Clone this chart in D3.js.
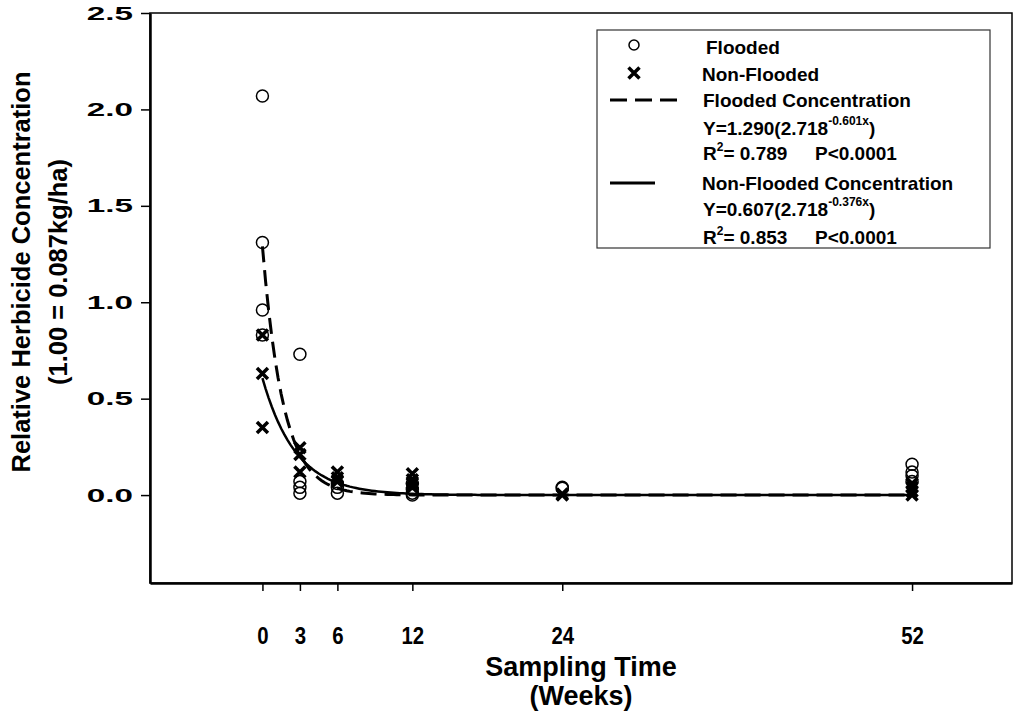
<!DOCTYPE html>
<html>
<head>
<meta charset="utf-8">
<script src="https://cdn.jsdelivr.net/npm/d3@7"></script>
<style>
  body { margin: 0; background: #fff; }
  text { font-family: "Liberation Sans", Arial, sans-serif; font-weight: bold; fill: #000; }
</style>
</head>
<body>
<div id="mainDiv"></div>
<script>
// x tick positions (weeks)
var xTicks = [0, 3, 6, 12, 24, 52];
var yTicks = [0.0, 0.5, 1.0, 1.5, 2.0, 2.5];

// flooded samples (open circles)
var floodedX = [0, 0, 0, 0, 3, 3, 3, 3, 6, 6, 6, 12, 12, 12, 12, 24, 24, 52, 52, 52, 52];
var floodedY = [2.07, 1.31, 0.96, 0.83, 0.73, 0.07, 0.04, 0.01, 0.06, 0.04, 0.01, 0.06, 0.03, 0.01, 0.0, 0.04, 0.035, 0.16, 0.12, 0.10, 0.07];

// non-flooded samples (crosses)
var nonFloodedX = [0, 0, 0, 3, 3, 3, 6, 6, 6, 12, 12, 12, 12, 24, 24, 52, 52, 52, 52];
var nonFloodedY = [0.83, 0.63, 0.35, 0.245, 0.21, 0.12, 0.12, 0.09, 0.07, 0.11, 0.08, 0.06, 0.04, 0.0, 0.005, 0.06, 0.04, 0.02, 0.0];

// fitted curves from the legend: Y = a * 2.718^(b x)
var fitFlooded = [1.290, -0.601];
var fitNonFlooded = [0.607, -0.376];

var legendLabels = ["Flooded", "Non-Flooded", "Flooded Concentration", "Non-Flooded Concentration"];

var mySvg = d3.select("#mainDiv").append("svg")
    .attr("width", 1013)
    .attr("height", 719);

var pLeft = 150, pRight = 1012, pTop = 13, pBottom = 583;

var x = d3.scaleLinear().domain([-9, 60]).range([pLeft, pRight]);
var y = d3.scaleLinear().domain([-0.456, 2.5]).range([pBottom, pTop]);

// frame
mySvg.append("rect")
    .attr("x", pLeft).attr("y", pTop)
    .attr("width", pRight - pLeft).attr("height", pBottom - pTop)
    .attr("fill", "none").attr("stroke", "#000").attr("stroke-width", 1.5);

// axes
var xAxis = mySvg.append("g")
    .attr("transform", "translate(0," + pBottom + ")")
    .call(d3.axisBottom(x).tickValues(xTicks).tickSize(8).tickSizeOuter(0).tickPadding(36));
xAxis.select(".domain").attr("stroke-width", 2.5);
xAxis.selectAll(".tick line").attr("stroke-width", 1.5);
xAxis.selectAll("text")
    .style("font-family", "'Liberation Sans', sans-serif")
    .style("font-weight", "bold")
    .style("font-size", "24px")
    .attr("transform", "scale(0.85,1)");

var yAxis = mySvg.append("g")
    .attr("transform", "translate(" + pLeft + ",0)")
    .call(d3.axisLeft(y).tickValues(yTicks).tickFormat(d3.format(".1f")).tickSize(9).tickSizeOuter(0));
yAxis.select(".domain").attr("stroke-width", 2.5);
yAxis.selectAll(".tick line").attr("stroke-width", 1.5);
yAxis.selectAll("text")
    .style("font-family", "'Liberation Sans', sans-serif")
    .style("font-weight", "bold")
    .style("font-size", "19px")
    .attr("x", -17 / 1.75)
    .attr("transform", "scale(1.75,1)");

// axis titles
mySvg.append("text")
    .attr("x", 581).attr("y", 676)
    .attr("text-anchor", "middle")
    .style("font-size", "27px")
    .text("Sampling Time");
mySvg.append("text")
    .attr("x", 581).attr("y", 705)
    .attr("text-anchor", "middle")
    .style("font-size", "27px")
    .text("(Weeks)");

mySvg.append("text")
    .attr("transform", "translate(30,272) rotate(-90)")
    .attr("text-anchor", "middle")
    .style("font-size", "25.5px")
    .text("Relative Herbicide Concentration");
mySvg.append("text")
    .attr("transform", "translate(67,272) rotate(-90)")
    .attr("text-anchor", "middle")
    .style("font-size", "25.5px")
    .text("(1.00 = 0.087kg/ha)");

// fitted curves
var curveX = d3.range(0, 52.01, 0.25);
var line = d3.line()
    .x(function(d) { return x(d[0]); })
    .y(function(d) { return y(d[1]); });

mySvg.append("path")
    .datum(curveX.map(function(t) { return [t, fitFlooded[0] * Math.pow(2.718, fitFlooded[1] * t)]; }))
    .attr("d", line)
    .attr("fill", "none").attr("stroke", "#000")
    .attr("stroke-width", 3).attr("stroke-dasharray", "16,8");

mySvg.append("path")
    .datum(curveX.map(function(t) { return [t, fitNonFlooded[0] * Math.pow(2.718, fitNonFlooded[1] * t)]; }))
    .attr("d", line)
    .attr("fill", "none").attr("stroke", "#000")
    .attr("stroke-width", 2.5);

// markers
function cross(g, cx, cy) {
    var s = 5.5;
    g.append("path")
        .attr("d", "M" + (cx - s) + "," + (cy - s) + "L" + (cx + s) + "," + (cy + s) +
                   "M" + (cx - s) + "," + (cy + s) + "L" + (cx + s) + "," + (cy - s))
        .attr("stroke", "#000").attr("stroke-width", 3.5).attr("fill", "none");
}

var pts = mySvg.append("g");
floodedX.forEach(function(d, i) {
    pts.append("circle")
        .attr("cx", x(d)).attr("cy", y(floodedY[i])).attr("r", 6)
        .attr("fill", "none").attr("stroke", "#000").attr("stroke-width", 1.5);
});
nonFloodedX.forEach(function(d, i) {
    cross(pts, x(d), y(nonFloodedY[i]));
});

// legend
var leg = mySvg.append("g");
leg.append("rect")
    .attr("x", 597).attr("y", 30).attr("width", 393).attr("height", 218)
    .attr("fill", "#fff").attr("stroke", "#333").attr("stroke-width", 1.2);

leg.append("circle").attr("cx", 634).attr("cy", 45).attr("r", 5)
    .attr("fill", "none").attr("stroke", "#000").attr("stroke-width", 1.5);
cross(leg, 634, 73);
leg.append("line").attr("x1", 610).attr("x2", 677).attr("y1", 100).attr("y2", 100)
    .attr("stroke", "#000").attr("stroke-width", 3).attr("stroke-dasharray", "17,8");
leg.append("line").attr("x1", 610).attr("x2", 655).attr("y1", 183).attr("y2", 183)
    .attr("stroke", "#000").attr("stroke-width", 3);

var lt = [[706, 54, legendLabels[0]], [702, 81, legendLabels[1]], [703, 107, legendLabels[2]], [702, 190, legendLabels[3]]];
lt.forEach(function(d) {
    leg.append("text").attr("x", d[0]).attr("y", d[1]).style("font-size", "19px").text(d[2]);
});

function eqn(yy, a, b) {
    var t = leg.append("text").attr("x", 703).attr("y", yy).style("font-size", "19px");
    t.append("tspan").text("Y=" + a + "(2.718");
    t.append("tspan").attr("dy", -10).style("font-size", "12px").text(b + "x");
    t.append("tspan").attr("dy", 10).text(")");
}
function rsq(yy, r) {
    var t = leg.append("text").attr("x", 703).attr("y", yy).style("font-size", "19px");
    t.append("tspan").text("R");
    t.append("tspan").attr("dy", -9).style("font-size", "12px").text("2");
    t.append("tspan").attr("dy", 9).text("= " + r);
    t.append("tspan").attr("x", 815).text("P<0.0001");
}
eqn(135, fitFlooded[0].toFixed(3), fitFlooded[1].toFixed(3));
rsq(160, "0.789");
eqn(216, fitNonFlooded[0].toFixed(3), fitNonFlooded[1].toFixed(3));
rsq(244, "0.853");
</script>
</body>
</html>
